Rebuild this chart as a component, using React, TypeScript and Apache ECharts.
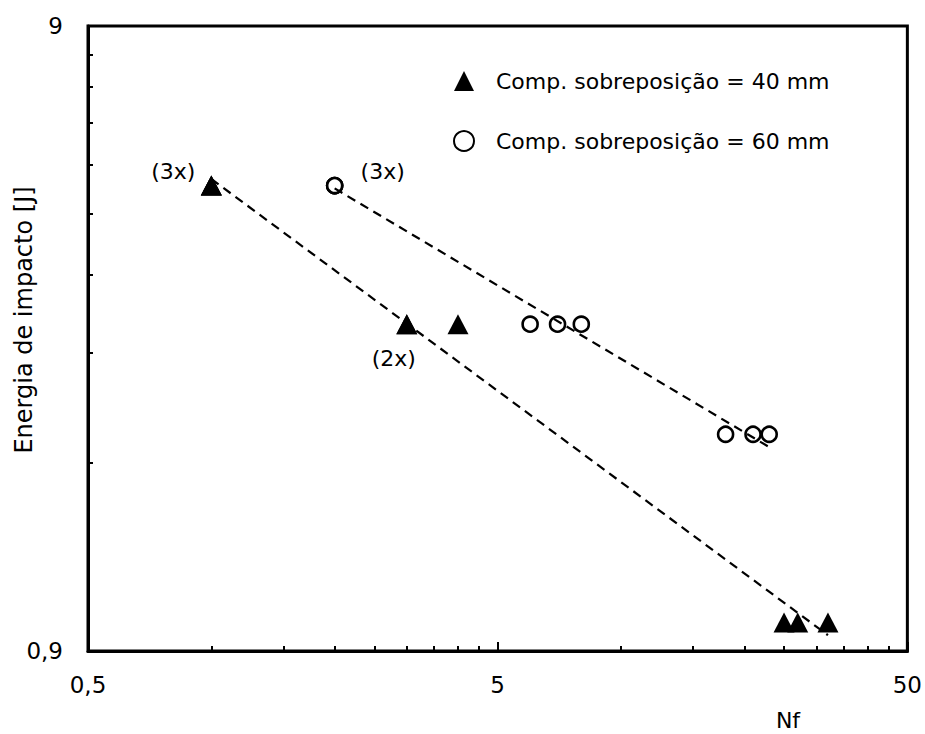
import React, { useEffect, useRef } from 'react';
import * as echarts from 'echarts';

// ---- data ----
const seriesNames = ['Comp. sobreposição = 40 mm', 'Comp. sobreposição = 60 mm'];
const nf40 = [1, 1, 1, 3, 3, 4, 25, 27, 32];
const energy40 = [5, 5, 5, 3, 3, 3, 1, 1, 1];
const notes40 = ['(3x)', '', '', '(2x)', '', '', '', '', ''];
const nf60 = [2, 2, 2, 6, 7, 8, 18, 21, 23];
const energy60 = [5, 5, 5, 3, 3, 3, 2, 2, 2];
const notes60 = ['(3x)', '', '', '', '', '', '', '', ''];

const xLabelTicks = [0.5, 5, 50];
const xMinorTicks = [1, 1.5, 2, 2.5, 3, 3.5, 4, 4.5, 10, 15, 20, 25, 30, 35, 40, 45];
const yLabelTicks = [0.9, 9];
const yMinorTicks = [1.8, 2.7, 3.6, 4.5, 5.4, 6.3, 7.2, 8.1];

const FONT = 'DejaVu Sans';

// least-squares power fit y = a*x^b (straight line on log-log axes)
function powerFit(xs: number[], ys: number[]): number[][] {
  const lx = xs.map((v) => Math.log10(v));
  const ly = ys.map((v) => Math.log10(v));
  const n = xs.length;
  const mx = lx.reduce((s, v) => s + v, 0) / n;
  const my = ly.reduce((s, v) => s + v, 0) / n;
  let sxx = 0;
  let sxy = 0;
  for (let i = 0; i < n; i++) {
    sxx += (lx[i] - mx) * (lx[i] - mx);
    sxy += (lx[i] - mx) * (ly[i] - my);
  }
  const b = sxy / sxx;
  const a = my - b * mx;
  const x0 = Math.min(...xs);
  const x1 = Math.max(...xs);
  return [
    [x0, Math.pow(10, a + b * Math.log10(x0))],
    [x1, Math.pow(10, a + b * Math.log10(x1))],
  ];
}

function fmt(v: number): string {
  return String(Number(v.toPrecision(3))).replace('.', ',');
}

function buildPoints(xs: number[], ys: number[], notes: string[], offsets: Record<string, number[]>) {
  return xs.map((x, i) => {
    const note = notes[i];
    if (!note) return { value: [x, ys[i]] };
    return {
      value: [x, ys[i]],
      label: {
        show: true,
        formatter: note,
        position: 'inside',
        offset: offsets[note + i] || [0, 0],
        color: '#000',
        opacity: 1,
        fontSize: 22,
        fontFamily: FONT,
      },
    };
  });
}

export default function App() {
  const ref = useRef<HTMLDivElement>(null);

  useEffect(() => {
    document.body.style.margin = '0';
    if (!ref.current) return;
    const chart = echarts.init(ref.current, undefined, { renderer: 'svg' });

    const pts40 = buildPoints(nf40, energy40, notes40, { '(3x)0': [-38, -14], '(2x)3': [-13, 34] });
    const pts60 = buildPoints(nf60, energy60, notes60, { '(3x)0': [48, -14] });

    const axisLabelStyle = { color: '#000', fontSize: 23, fontFamily: FONT };

    chart.setOption({
      animation: false,
      backgroundColor: '#fff',
      grid: {
        left: 88,
        right: 16,
        top: 26,
        bottom: 83,
        show: true,
        borderColor: '#000',
        borderWidth: 3,
        containLabel: false,
      },
      xAxis: [
        {
          type: 'log',
          logBase: 10,
          min: 0.5,
          max: 50,
          position: 'bottom',
          axisLine: { show: true, lineStyle: { color: '#000', width: 3 } },
          splitLine: { show: false },
          axisTick: {
            show: true,
            inside: true,
            length: 5,
            customValues: xMinorTicks,
            lineStyle: { color: '#000', width: 2 },
          },
          axisLabel: {
            show: true,
            customValues: xLabelTicks,
            margin: 22,
            formatter: (v: number) => fmt(v),
            ...axisLabelStyle,
          },
        },
        {
          type: 'log',
          logBase: 10,
          min: 0.5,
          max: 50,
          position: 'bottom',
          axisLine: { show: false },
          splitLine: { show: false },
          axisTick: {
            show: true,
            inside: true,
            length: 9,
            customValues: xLabelTicks,
            lineStyle: { color: '#000', width: 2 },
          },
          axisLabel: { show: false },
        },
      ],
      yAxis: {
        type: 'log',
        logBase: 10,
        min: 0.9,
        max: 9,
        axisLine: { show: true, lineStyle: { color: '#000', width: 3 } },
        splitLine: { show: false },
        axisTick: {
          show: true,
          inside: true,
          length: 5,
          customValues: yMinorTicks,
          lineStyle: { color: '#000', width: 2 },
        },
        axisLabel: {
          show: true,
          customValues: yLabelTicks,
          margin: 25,
          formatter: (v: number) => fmt(v),
          ...axisLabelStyle,
        },
      },
      legend: {
        orient: 'vertical',
        left: 448,
        top: 65,
        itemWidth: 20,
        itemHeight: 20,
        itemGap: 38,
        data: seriesNames,
        textStyle: { color: '#000', fontSize: 22, fontFamily: FONT, padding: [0, 0, 0, 17] },
      },
      graphic: [
        {
          type: 'text',
          x: 788,
          y: 720,
          style: { text: 'Nf', fill: '#000', fontSize: 22, fontFamily: FONT, align: 'center', verticalAlign: 'middle' },
        },
        {
          type: 'text',
          x: 24,
          y: 320,
          rotation: Math.PI / 2,
          style: {
            text: 'Energia de impacto [J]',
            fill: '#000',
            fontSize: 24,
            fontFamily: FONT,
            align: 'center',
            verticalAlign: 'middle',
          },
        },
      ],
      series: [
        {
          name: seriesNames[0],
          type: 'scatter',
          xAxisIndex: 0,
          symbol: 'triangle',
          symbolSize: [21, 20],
          itemStyle: { color: '#000', opacity: 1 },
          data: pts40,
          z: 3,
        },
        {
          name: seriesNames[1],
          type: 'scatter',
          xAxisIndex: 0,
          symbol: 'circle',
          symbolSize: 15,
          itemStyle: { color: '#fff', borderColor: '#000', borderWidth: 2.6, opacity: 1 },
          data: pts60,
          z: 3,
        },
        {
          name: 'trend40',
          type: 'line',
          xAxisIndex: 0,
          data: powerFit(nf40, energy40),
          symbol: 'none',
          lineStyle: { color: '#000', width: 2.2, type: [9, 6] },
          z: 4,
        },
        {
          name: 'trend60',
          type: 'line',
          xAxisIndex: 0,
          data: powerFit(nf60, energy60),
          symbol: 'none',
          lineStyle: { color: '#000', width: 2.2, type: [9, 6] },
          z: 4,
        },
      ],
    });

    return () => chart.dispose();
  }, []);

  return <div ref={ref} style={{ width: 925, height: 734 }} />;
}
